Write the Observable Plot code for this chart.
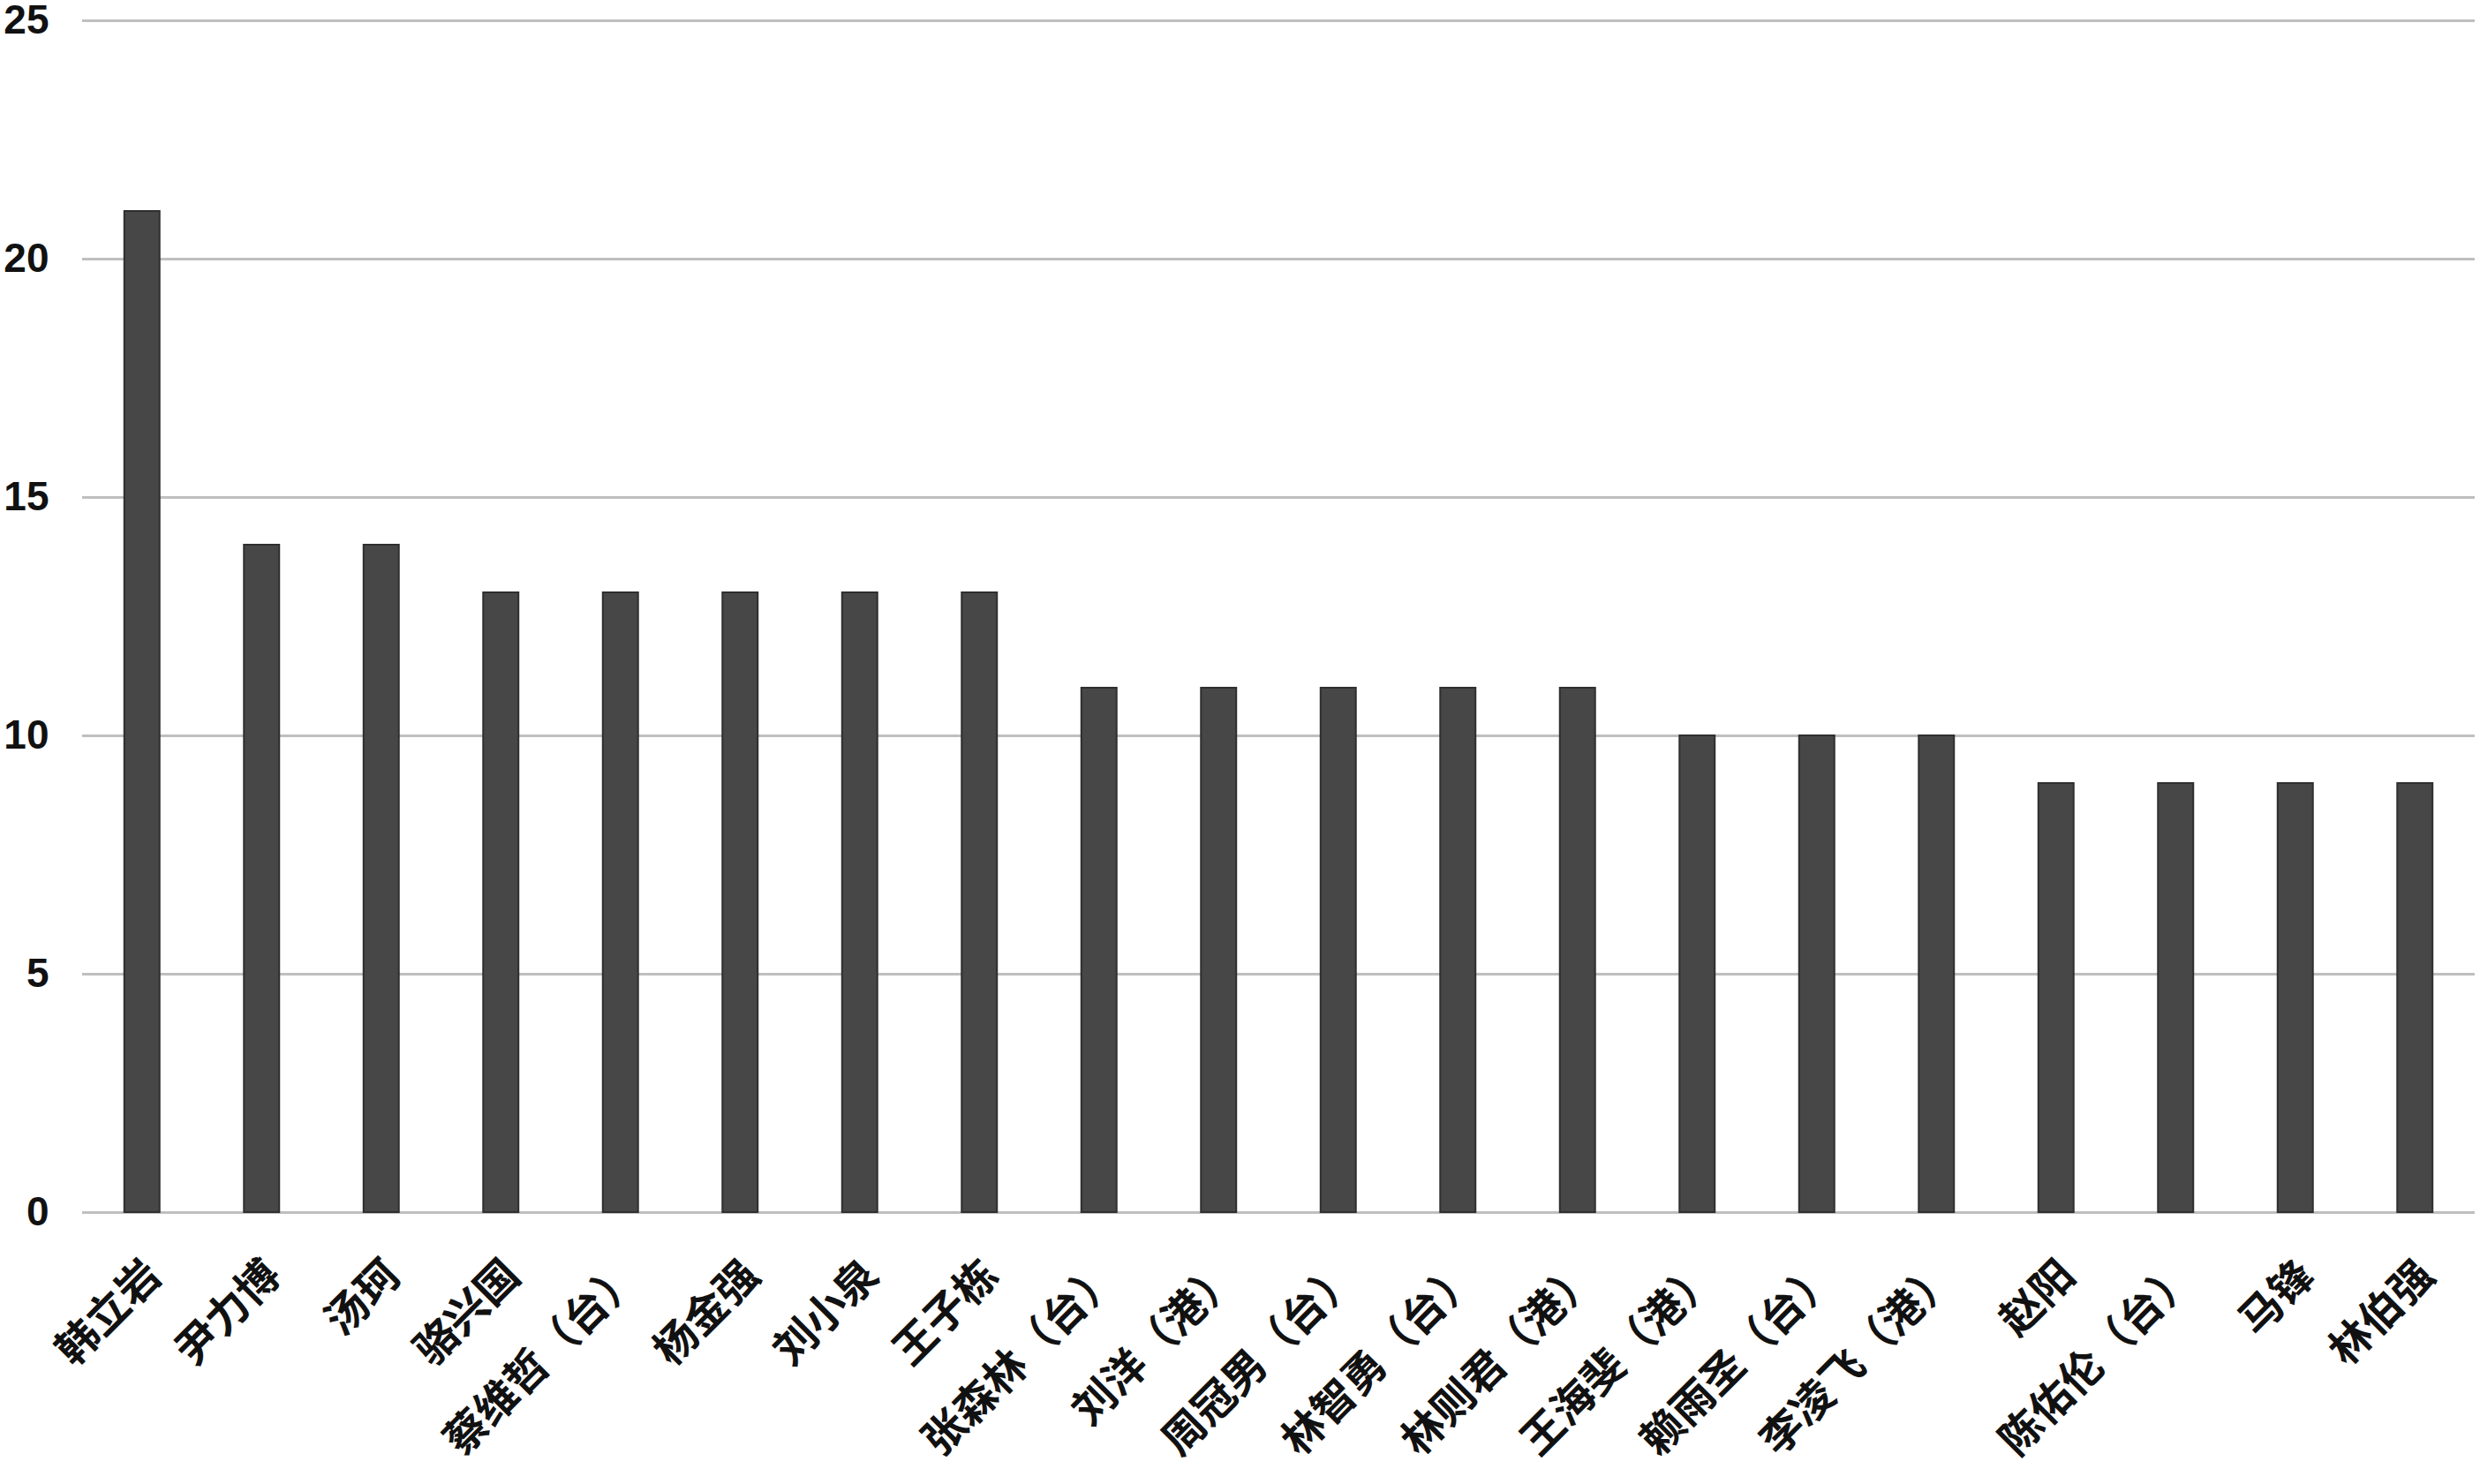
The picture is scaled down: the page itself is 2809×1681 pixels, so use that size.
<!DOCTYPE html>
<html>
<head>
<meta charset="utf-8">
<script src="https://cdn.jsdelivr.net/npm/d3@7"></script>
<script src="https://cdn.jsdelivr.net/npm/@observablehq/plot@0.6"></script>
<style>
  html, body { margin: 0; padding: 0; background: #fff; }
  #chart svg { display: block; }
</style>
</head>
<body>
<div id="chart"></div>
<script>
const names = ["韩立岩", "尹力博", "汤珂", "骆兴国", "蔡维哲（台）", "杨金强", "刘小泉", "王子栋",
  "张森林（台）", "刘洋（港）", "周冠男（台）", "林智勇（台）", "林则君（港）", "王海斐（港）",
  "赖雨圣（台）", "李凌飞（港）", "赵阳", "陈佑伦（台）", "马锋", "林伯强"];
const counts = [21, 14, 14, 13, 13, 13, 13, 13, 11, 11, 11, 11, 11, 10, 10, 10, 9, 9, 9, 9];
const yTicks = [0, 5, 10, 15, 20, 25];

const data = names.map((name, i) => ({name, count: counts[i]}));

const chart = Plot.plot({
  width: 2809,
  height: 1681,
  marginLeft: 93,
  marginRight: 6,
  marginTop: 23,
  marginBottom: 308,
  style: {background: "#fff"},
  x: {domain: names, paddingInner: 0.705, paddingOuter: 0.3525, round: false, axis: null},
  y: {domain: [0, 25], axis: null},
  marks: [
    Plot.ruleY(yTicks, {stroke: "#bfbfbf", strokeWidth: 3}),
    Plot.barY(data, {x: "name", y: "count", fill: "#474747", stroke: "#2f2f2f", strokeWidth: 2}),
    Plot.axisY({ticks: yTicks, label: null, tickSize: 0, tickPadding: 38, fontSize: 46,
      fontWeight: "bold", fontFamily: "Liberation Sans, Arial, sans-serif", fill: "#111"}),
    Plot.text(data, {x: "name", text: "name", frameAnchor: "bottom", rotate: -45,
      textAnchor: "end", dx: 24, dy: 74, fontSize: 48, fontWeight: "bold",
      fontFamily: "Noto Sans CJK SC, sans-serif", fill: "#111", lineAnchor: "bottom"})
  ]
});
document.getElementById("chart").appendChild(chart);
</script>
</body>
</html>
